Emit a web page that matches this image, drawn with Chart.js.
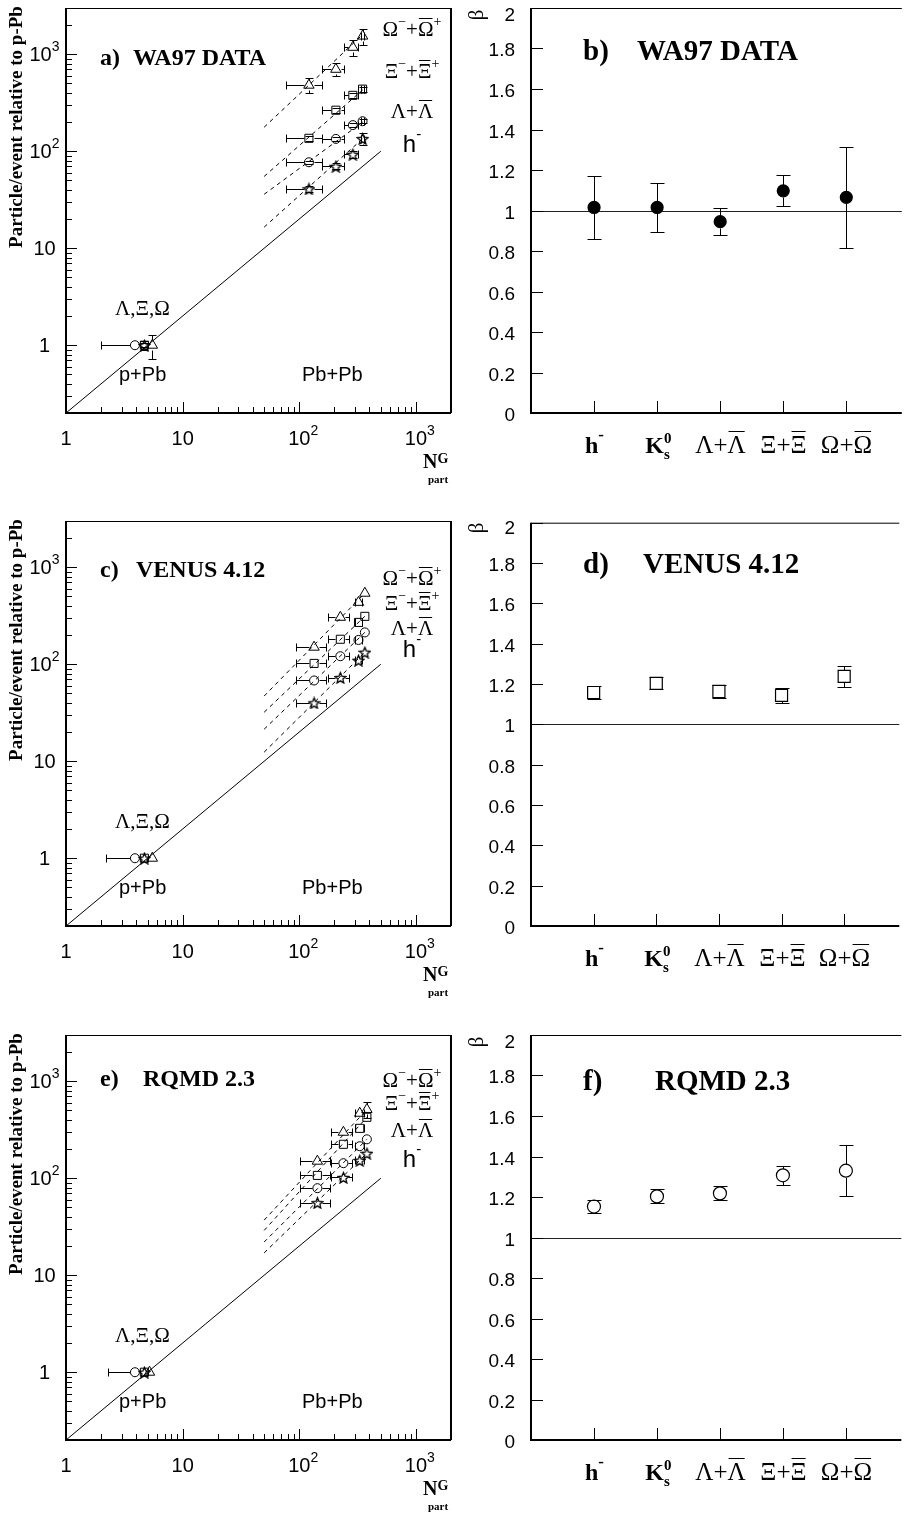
<!DOCTYPE html>
<html lang="en">
<head>
<meta charset="UTF-8">
<title>Strange particle yields vs N_part</title>
<script src="https://cdn.jsdelivr.net/npm/chart.js"></script>
<style>
  html, body { margin: 0; padding: 0; background: #fff; overflow: hidden; }
  #page { position: relative; width: 909px; height: 1515px; }
  canvas { position: absolute; }
</style>
</head>
<body>
<div id="page">
  <canvas id="panelA" width="460" height="500" style="left:0;top:0"></canvas>
  <canvas id="panelB" width="454" height="470" style="left:455px;top:0"></canvas>
  <canvas id="panelC" width="460" height="500" style="left:0;top:513px"></canvas>
  <canvas id="panelD" width="454" height="470" style="left:455px;top:513px"></canvas>
  <canvas id="panelE" width="460" height="488" style="left:0;top:1027px"></canvas>
  <canvas id="panelF" width="454" height="470" style="left:455px;top:1027px"></canvas>
</div>
<script>
const SERIF = '"Liberation Serif", "Times New Roman", serif';
const SANS = '"Liberation Sans", Arial, sans-serif';

// ---------- left panels: particle/event relative to p-Pb vs N_part ----------
// species order everywhere: Omega (triangle), Xi (square), Lambda (circle), h- (star)
const logTicks = [1, 10, 100, 1000];
const logTickExp = ['', '', '2', '3'];
const scalingNpart = [1, 500];
const scalingYield = [0.2, 100];

// WA97 data
const wa97Npart = [121, 206, 288, 349];
const wa97NpartLo = [77, 158, 240, 336];
const wa97NpartHi = [158, 243, 320, 362];
const wa97Omega = [480, 700, 1180, 1540];
const wa97OmegaErr = [85, 105, 210, 280];
const wa97Xi = [136, 265, 377, 437];
const wa97XiErr = [8, 16, 25, 28];
const wa97Lambda = [77, 134, 186, 204];
const wa97LambdaErr = [3, 5, 8, 9];
const wa97Hminus = [41, 70, 93, 135];
const wa97HminusErr = [3, 5, 7, 19];
const wa97PpbNpart = [5.5, 4.7, 3.9, 4.7];
const wa97PpbErr = [0.28, 0.1, 0, 0.05];
const wa97PpbNpartLo = [null, null, 2.0, null];
const wa97FitNpart = [50, 350];
const wa97FitStart = [177, 55, 36, 16.5];
const wa97FitEnd = [1600, 430, 200, 135];

// VENUS 4.12
const venusNpart = [134, 225, 322, 365];
const venusNpartLo = [94, 177, 302, 365];
const venusNpartHi = [170, 268, 342, 365];
const venusOmega = [150, 305, 435, 540];
const venusXi = [102, 181, 270, 312];
const venusLambda = [68, 121, 178, 213];
const venusHminus = [40, 73, 110, 133];
const venusPpbNpart = [5.5, 4.7, 3.9, 4.7];
const venusPpbNpartLo = [null, null, 2.2, null];
const venusFitNpart = [50, 365];
const venusFitStart = [47, 32, 21.4, 12.4];
const venusFitEnd = [540, 312, 213, 133];

// RQMD 2.3
const rqmdNpart = [143, 239, 330, 380];
const rqmdNpartLo = [102, 188, 302, 380];
const rqmdNpartHi = [184, 285, 358, 380];
const rqmdOmega = [150, 298, 468, 512];
const rqmdOmegaErr = [0, 0, 0, 95];
const rqmdXi = [107, 224, 327, 425];
const rqmdLambda = [79, 143, 214, 252];
const rqmdHminus = [56, 102, 153, 181];
const rqmdPpbNpart = [5.2, 4.7, 3.9, 4.7];
const rqmdPpbNpartLo = [null, null, 2.3, null];
const rqmdFitNpart = [50, 380];
const rqmdFitStart = [37, 29, 22, 17];
const rqmdFitEnd = [512, 425, 252, 181];

// ---------- right panels: beta exponents ----------
const betaCategories = ['h-', 'K0s', 'Lambda', 'Xi', 'Omega'];
const betaPos = [1, 2, 3, 4, 5];
const betaTicks = [0, 0.2, 0.4, 0.6, 0.8, 1, 1.2, 1.4, 1.6, 1.8, 2];
const wa97Beta = [1.015, 1.015, 0.945, 1.097, 1.065];
const wa97BetaErr = [0.155, 0.12, 0.065, 0.077, 0.25];
const venusBeta = [1.158, 1.203, 1.163, 1.144, 1.238];
const venusBetaErr = [0.03, 0.03, 0.03, 0.037, 0.052];
const rqmdBeta = [1.153, 1.203, 1.218, 1.307, 1.33];
const rqmdBetaErr = [0.032, 0.035, 0.035, 0.046, 0.125];

// ---------- drawing helpers ----------
const t = (text, font, extra) => Object.assign({ t: text, f: font }, extra || {});

function drawRich(ctx, x, y, parts, align) {
  let w = 0;
  parts.forEach(p => { ctx.font = p.f; p.w = ctx.measureText(p.t).width; if (!p.hold) w += p.w; });
  let cx = align === 'center' ? x - w / 2 : align === 'right' ? x - w : x;
  ctx.textAlign = 'left';
  ctx.textBaseline = 'alphabetic';
  parts.forEach(p => {
    ctx.font = p.f;
    ctx.fillText(p.t, cx, y + (p.dy || 0));
    if (p.over) {
      const oy = Math.round(y - p.over) + 0.5;
      ctx.lineWidth = 1;
      ctx.beginPath(); ctx.moveTo(cx + 1, oy); ctx.lineTo(cx + p.w - 1, oy); ctx.stroke();
    }
    if (!p.hold) cx += p.w;
  });
}

function seg(ctx, x0, y0, x1, y1) {
  ctx.beginPath(); ctx.moveTo(x0, y0); ctx.lineTo(x1, y1); ctx.stroke();
}

function starImage(size) {
  const c = document.createElement('canvas');
  c.width = c.height = size;
  const g = c.getContext('2d');
  const m = size / 2, R = size / 2 - 0.8, r = R * 0.45;
  g.beginPath();
  for (let i = 0; i < 10; i++) {
    const a = -Math.PI / 2 + i * Math.PI / 5, rad = i % 2 ? r : R;
    g.lineTo(m + rad * Math.cos(a), m + 0.8 + rad * Math.sin(a));
  }
  g.closePath();
  g.strokeStyle = '#000'; g.lineWidth = 1.3; g.stroke();
  return c;
}
const STAR = starImage(13);
const speciesMarks = [
  { style: 'triangle', r: 6 },
  { style: 'rect', r: 5.7 },
  { style: 'circle', r: 4.5 },
  { style: STAR, r: 6 }
];

// error bars (gap around marker, caps at the ends)
const errorBars = {
  id: 'errorBars',
  afterDatasetsDraw(chart) {
    const { ctx, scales: { x: xs, y: ys } } = chart;
    ctx.save();
    ctx.strokeStyle = '#000';
    ctx.lineWidth = 1;
    chart.data.datasets.forEach(ds => {
      const e = ds.err;
      if (!e) return;
      ds.data.forEach((p, i) => {
        const px = Math.round(xs.getPixelForValue(p.x)) + 0.5;
        const py = Math.round(ys.getPixelForValue(p.y)) + 0.5;
        const g = e.gap, c = e.cap;
        if (e.xlo && e.xlo[i] != null && e.xlo[i] < p.x) {
          const x0 = Math.round(xs.getPixelForValue(e.xlo[i])) + 0.5;
          if (px - g > x0) seg(ctx, x0, py, px - g, py);
          seg(ctx, x0, py - c, x0, py + c);
        }
        if (e.xhi && e.xhi[i] != null && e.xhi[i] > p.x) {
          const x1 = Math.round(xs.getPixelForValue(e.xhi[i])) + 0.5;
          if (x1 > px + g) seg(ctx, px + g, py, x1, py);
          seg(ctx, x1, py - c, x1, py + c);
        }
        if (e.yerr && e.yerr[i]) {
          const yt = Math.round(ys.getPixelForValue(p.y + e.yerr[i])) + 0.5;
          const yb = Math.round(ys.getPixelForValue(p.y - e.yerr[i])) + 0.5;
          if (py - g > yt) seg(ctx, px, yt, px, py - g);
          if (yb > py + g) seg(ctx, px, py + g, px, yb);
          seg(ctx, px - c, yt, px + c, yt);
          seg(ctx, px - c, yb, px + c, yb);
        }
      });
    });
    ctx.restore();
  }
};

// frame, log ticks and texts of the yield panels
const g21 = '21px ' + SERIF, s14 = '14px ' + SERIF;
const legendParts = [
  [t('Ω', g21), t('−', s14, { dy: -10 }), t('+', g21), t('Ω', g21, { over: 18 }), t('+', s14, { dy: -10 })],
  [t('Ξ', g21), t('−', s14, { dy: -10 }), t('+', g21), t('Ξ', g21, { over: 18 }), t('+', s14, { dy: -10 })],
  [t('Λ', g21), t('+', g21), t('Λ', g21, { over: 18 })],
  [t('h', '24px ' + SANS), t('-', '15px ' + SANS, { dy: -13 })]
];

const logFrame = {
  id: 'logFrame',
  afterDraw(chart, args, o) {
    const { ctx, chartArea: a, scales: { x, y } } = chart;
    ctx.save();
    ctx.strokeStyle = '#000';
    ctx.fillStyle = '#000';
    ctx.lineWidth = 1;
    seg(ctx, a.left, a.top + 0.5, a.right, a.top + 0.5);
    ctx.lineWidth = 2;
    seg(ctx, a.right, a.top, a.right, a.bottom);
    ctx.beginPath(); ctx.moveTo(a.left, a.top); ctx.lineTo(a.left, a.bottom); ctx.lineTo(a.right, a.bottom); ctx.stroke();
    ctx.lineWidth = 1;
    for (let d = -1; d <= 3; d++) {
      for (let m = 1; m <= 9; m++) {
        const v = m * Math.pow(10, d), len = m === 1 ? 11 : 6;
        if (v >= y.min && v <= y.max) {
          const py = Math.round(y.getPixelForValue(v)) + 0.5;
          seg(ctx, a.left, py, a.left + len, py);
        }
        if (v >= x.min && v <= x.max) {
          const px = Math.round(x.getPixelForValue(v)) + 0.5;
          seg(ctx, px, a.bottom, px, a.bottom - len);
        }
      }
    }
    const f20 = '20px ' + SANS, f14 = '14px ' + SANS;
    logTicks.forEach((v, i) => {
      const base = v === 1 ? '1' : '10', exp = logTickExp[i];
      const py = y.getPixelForValue(v);
      const parts = [t(base, f20)];
      if (exp) parts.push(t(exp, f14, { dy: -10 }));
      drawRich(ctx, 44.5, py + 7, parts, 'center');
      const px = x.getPixelForValue(v);
      ctx.font = f20;
      const bw = ctx.measureText(base).width;
      drawRich(ctx, px - bw / 2, 445, parts, 'left');
    });
    // axis titles
    ctx.save();
    ctx.translate(17, 127);
    ctx.rotate(-Math.PI / 2);
    ctx.font = 'bold 19px ' + SERIF;
    ctx.textAlign = 'center';
    ctx.textBaseline = 'middle';
    ctx.fillText('Particle/event relative to p-Pb', 0, 0);
    ctx.restore();
    drawRich(ctx, 423, 468, [t('N', 'bold 20px ' + SERIF), t('G', 'bold 14px ' + SERIF, { dy: -5 })], 'left');
    drawRich(ctx, 428, 483, [t('part', 'bold 11px ' + SERIF)], 'left');
    // title
    drawRich(ctx, 100, o.titleY, [t(o.tag, 'bold 24px ' + SERIF)], 'left');
    drawRich(ctx, o.nameX, o.titleY, [t(o.name, 'bold 24px ' + SERIF)], 'left');
    // species legend
    legendParts.forEach((parts, i) => drawRich(ctx, 412, o.legendY[i], parts, 'center'));
    drawRich(ctx, 115, 315, [t('Λ,Ξ,Ω', g21)], 'left');
    drawRich(ctx, 119, 381, [t('p+Pb', '20px ' + SANS)], 'left');
    drawRich(ctx, 302, 381, [t('Pb+Pb', '20px ' + SANS)], 'left');
    ctx.restore();
  }
};

function yieldChart(id, p) {
  const canvas = document.getElementById(id);
  const datasets = [{
    data: scalingNpart.map((n, i) => ({ x: n, y: scalingYield[i] })),
    showLine: true, pointRadius: 0, borderColor: '#000', borderWidth: 1
  }];
  p.values.forEach((vals, s) => {
    datasets.push({
      data: p.fitNpart.map((n, k) => ({ x: n, y: k === 0 ? p.fitStart[s] : p.fitEnd[s] })),
      showLine: true, pointRadius: 0, borderColor: '#000', borderWidth: 1, borderDash: [4, 4]
    });
  });
  p.values.forEach((vals, s) => {
    const mk = speciesMarks[s];
    datasets.push({
      data: [{ x: p.ppbNpart[s], y: 1 }].concat(p.npart.map((n, k) => ({ x: n, y: vals[k] }))),
      showLine: false,
      pointStyle: mk.style, pointRadius: mk.r,
      borderColor: '#000', backgroundColor: 'rgba(0,0,0,0)', borderWidth: 1,
      err: {
        gap: 5, cap: 4,
        xlo: [p.ppbNpartLo[s]].concat(p.npartLo),
        xhi: [null].concat(p.npartHi),
        yerr: [p.ppbErr ? p.ppbErr[s] : 0].concat(p.errs[s] || [0, 0, 0, 0])
      }
    });
  });
  new Chart(canvas, {
    type: 'scatter',
    data: { datasets },
    options: {
      responsive: false, animation: false, devicePixelRatio: 1, events: [],
      layout: { padding: { left: 66, top: 8, right: 9, bottom: canvas.height - 413 } },
      plugins: { legend: { display: false }, tooltip: { enabled: false }, logFrame: p.text },
      scales: {
        x: { type: 'logarithmic', min: 1, max: 2000, display: false },
        y: { type: 'logarithmic', min: 0.2, max: 3000, display: false }
      }
    },
    plugins: [errorBars, logFrame]
  });
}

yieldChart('panelA', {
  npart: wa97Npart, npartLo: wa97NpartLo, npartHi: wa97NpartHi,
  values: [wa97Omega, wa97Xi, wa97Lambda, wa97Hminus],
  errs: [wa97OmegaErr, wa97XiErr, wa97LambdaErr, wa97HminusErr],
  ppbNpart: wa97PpbNpart, ppbNpartLo: wa97PpbNpartLo, ppbErr: wa97PpbErr,
  fitNpart: wa97FitNpart, fitStart: wa97FitStart, fitEnd: wa97FitEnd,
  text: { tag: 'a)', name: 'WA97 DATA', nameX: 133, titleY: 65, legendY: [36, 78, 118, 152] }
});
yieldChart('panelC', {
  npart: venusNpart, npartLo: venusNpartLo, npartHi: venusNpartHi,
  values: [venusOmega, venusXi, venusLambda, venusHminus],
  errs: [],
  ppbNpart: venusPpbNpart, ppbNpartLo: venusPpbNpartLo, ppbErr: null,
  fitNpart: venusFitNpart, fitStart: venusFitStart, fitEnd: venusFitEnd,
  text: { tag: 'c)', name: 'VENUS 4.12', nameX: 136, titleY: 64, legendY: [72, 97, 122, 144] }
});
yieldChart('panelE', {
  npart: rqmdNpart, npartLo: rqmdNpartLo, npartHi: rqmdNpartHi,
  values: [rqmdOmega, rqmdXi, rqmdLambda, rqmdHminus],
  errs: [rqmdOmegaErr],
  ppbNpart: rqmdPpbNpart, ppbNpartLo: rqmdPpbNpartLo, ppbErr: null,
  fitNpart: rqmdFitNpart, fitStart: rqmdFitStart, fitEnd: rqmdFitEnd,
  text: { tag: 'e)', name: 'RQMD 2.3', nameX: 143, titleY: 59, legendY: [60, 83, 110, 140] }
});

// ---------- beta panels ----------
const b24 = 'bold 24px ' + SERIF, r25 = '25px ' + SERIF, b15 = 'bold 15px ' + SERIF;
const betaLabelParts = {
  'h-': [t('h', b24), t('-', 'bold 17px ' + SERIF, { dy: -13 })],
  'K0s': [t('K', b24), t('0', b15, { dy: -10, hold: true }), t('s', b15, { dy: 6 })],
  'Lambda': [t('Λ', r25), t('+', r25), t('Λ', r25, { over: 22 })],
  'Xi': [t('Ξ', r25), t('+', r25), t('Ξ', r25, { over: 22 })],
  'Omega': [t('Ω', r25), t('+', r25), t('Ω', r25, { over: 22 })]
};

const unityLine = {
  id: 'unityLine',
  beforeDatasetsDraw(chart) {
    const { ctx, chartArea: a, scales: { y } } = chart;
    const py = Math.round(y.getPixelForValue(1)) + 0.5;
    ctx.save();
    ctx.strokeStyle = '#222';
    ctx.lineWidth = 1;
    seg(ctx, a.left, py, a.right, py);
    ctx.restore();
  }
};

const betaFrame = {
  id: 'betaFrame',
  afterDraw(chart, args, o) {
    const { ctx, chartArea: a, scales: { x, y } } = chart;
    ctx.save();
    ctx.strokeStyle = '#000';
    ctx.fillStyle = '#000';
    ctx.lineWidth = 1;
    seg(ctx, a.left, a.top + 0.5, a.right, a.top + 0.5);
    ctx.lineWidth = 2;
    ctx.beginPath(); ctx.moveTo(a.left, a.top); ctx.lineTo(a.left, a.bottom); ctx.lineTo(a.right, a.bottom); ctx.stroke();
    ctx.lineWidth = 1;
    betaTicks.forEach(v => {
      const py = Math.round(y.getPixelForValue(v)) + 0.5;
      seg(ctx, a.left, py, a.left + 12, py);
      ctx.font = '19px ' + SANS;
      ctx.textAlign = 'right';
      ctx.textBaseline = 'middle';
      ctx.fillText(String(v), 60, Math.max(py + 2, 16));
    });
    betaPos.forEach((c, i) => {
      const px = Math.round(x.getPixelForValue(c)) + 0.5;
      seg(ctx, px, a.bottom, px, a.bottom - 12);
      drawRich(ctx, px, 453, betaLabelParts[betaCategories[i]], 'center');
    });
    ctx.save();
    ctx.translate(22, 15);
    ctx.rotate(-Math.PI / 2);
    ctx.font = '21px ' + SERIF;
    ctx.textAlign = 'center';
    ctx.textBaseline = 'middle';
    ctx.fillText('β', 0, 0);
    ctx.restore();
    drawRich(ctx, 128, o.titleY, [t(o.tag, 'bold 29px ' + SERIF)], 'left');
    drawRich(ctx, o.nameX, o.titleY, [t(o.name, 'bold 29px ' + SERIF)], 'left');
    ctx.restore();
  }
};

function betaChart(id, vals, errs, mark, text) {
  new Chart(document.getElementById(id), {
    type: 'scatter',
    data: {
      datasets: [{
        data: betaPos.map((c, i) => ({ x: c, y: vals[i] })),
        pointStyle: mark.style, pointRadius: mark.r,
        borderColor: '#000', backgroundColor: mark.fill, borderWidth: 1.2,
        err: { gap: mark.gap, cap: 7, yerr: errs }
      }]
    },
    options: {
      responsive: false, animation: false, devicePixelRatio: 1, events: [],
      layout: { padding: { left: 76, top: 8, right: 0, bottom: 57 } },
      plugins: { legend: { display: false }, tooltip: { enabled: false }, betaFrame: text },
      scales: {
        x: { type: 'linear', min: 0, max: 5.88, display: false },
        y: { type: 'linear', min: 0, max: 2, display: false }
      }
    },
    plugins: [unityLine, errorBars, betaFrame]
  });
}

betaChart('panelB', wa97Beta, wa97BetaErr,
  { style: 'circle', r: 6, fill: '#000', gap: 6 },
  { tag: 'b)', name: 'WA97 DATA', nameX: 182, titleY: 60 });
betaChart('panelD', venusBeta, venusBetaErr,
  { style: 'rect', r: 8.5, fill: 'rgba(0,0,0,0)', gap: 6 },
  { tag: 'd)', name: 'VENUS 4.12', nameX: 188, titleY: 60 });
betaChart('panelF', rqmdBeta, rqmdBetaErr,
  { style: 'circle', r: 6.5, fill: 'rgba(0,0,0,0)', gap: 6.5 },
  { tag: 'f)', name: 'RQMD 2.3', nameX: 200, titleY: 63 });
</script>
</body>
</html>
